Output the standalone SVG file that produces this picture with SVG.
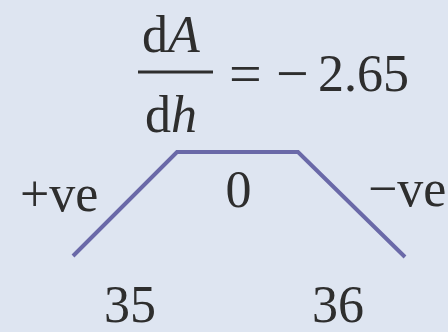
<svg xmlns="http://www.w3.org/2000/svg" width="448" height="332" viewBox="0 0 448 332">
<style>
.t{font-family:"Liberation Serif","Times New Roman",serif;font-size:52px;fill:#2e2e2e}
.s{font-size:58px}
.i{font-style:italic}
.ln{fill:none;stroke:#6a69a8;stroke-width:4;stroke-linejoin:miter}
</style>
<rect width="448" height="332" fill="#dee5f1"/>
<g id="equation">
<text class="t" x="142" y="52">d<tspan class="i">A</tspan></text>
<rect x="138" y="70.5" width="75" height="3" fill="#2e2e2e"/>
<text class="t" x="145" y="132">d<tspan class="i">h</tspan></text>
<text class="t s" x="229" y="93">=</text>
<text class="t s" x="276" y="93">−</text>
<text class="t" x="318" y="91">2.65</text>
</g>
<g id="connectors">
<polyline class="ln" points="73,256 177,152 298,152 405,257"/>
</g>
<g id="labels">
<text class="t" x="20" y="211">+ve</text>
<text class="t" x="238.5" y="207" text-anchor="middle">0</text>
<text class="t" x="368" y="206">−ve</text>
<text class="t" x="104" y="322">35</text>
<text class="t" x="312" y="322">36</text>
</g>
</svg>
